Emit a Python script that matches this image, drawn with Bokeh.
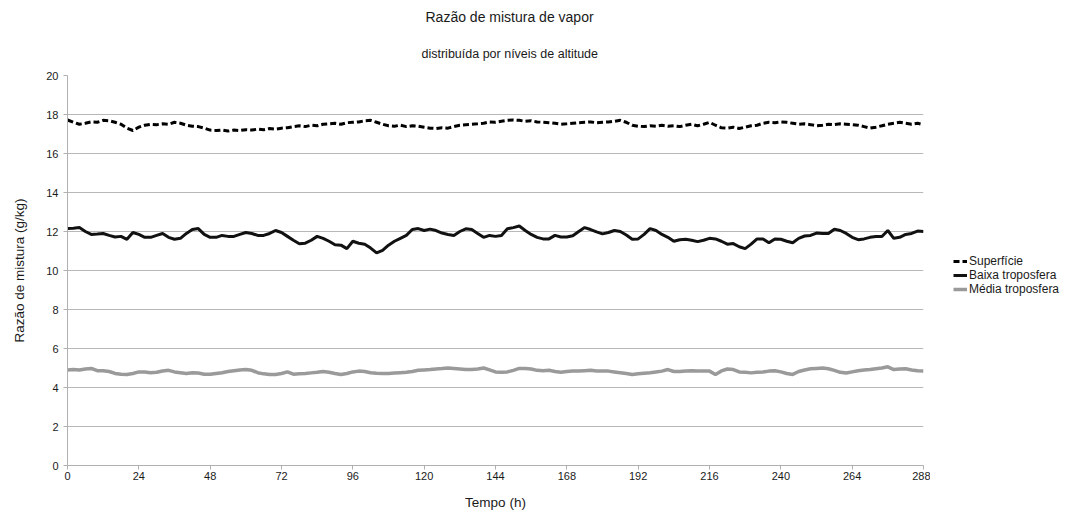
from bokeh.plotting import figure
from bokeh.layouts import row
from bokeh.models import Range1d, FixedTicker, Legend, LegendItem, Title
from bokeh.embed import file_html
from bokeh.resources import INLINE

hours = list(range(0, 289, 2))

superficie = [
    17.72, 17.6, 17.5, 17.55, 17.62, 17.6, 17.7, 17.68, 17.6, 17.5, 17.3, 17.18,
    17.35, 17.45, 17.5, 17.48, 17.52, 17.5, 17.6, 17.55, 17.45, 17.4, 17.38, 17.3,
    17.2, 17.18, 17.2, 17.15, 17.2, 17.18, 17.22, 17.2, 17.25, 17.22, 17.28, 17.25,
    17.3, 17.32, 17.38, 17.42, 17.38, 17.45, 17.42, 17.5, 17.52, 17.55, 17.5, 17.58,
    17.6, 17.62, 17.68, 17.7, 17.6, 17.5, 17.42, 17.4, 17.45, 17.38, 17.42, 17.4,
    17.35, 17.3, 17.28, 17.32, 17.3, 17.38, 17.45, 17.48, 17.5, 17.52, 17.55, 17.62,
    17.6, 17.65, 17.7, 17.72, 17.7, 17.65, 17.68, 17.62, 17.6, 17.58, 17.55, 17.5,
    17.52, 17.55, 17.58, 17.6, 17.62, 17.58, 17.6, 17.62, 17.65, 17.7, 17.6, 17.45,
    17.4, 17.38, 17.42, 17.4, 17.45, 17.4, 17.42, 17.38, 17.45, 17.5, 17.42, 17.5,
    17.6, 17.45, 17.32, 17.3, 17.35, 17.28, 17.35, 17.42, 17.45, 17.55, 17.6, 17.58,
    17.62, 17.6, 17.55, 17.5, 17.52, 17.48, 17.42, 17.45, 17.5, 17.48, 17.52, 17.5,
    17.48, 17.45, 17.38, 17.3, 17.35, 17.42, 17.5, 17.55, 17.6, 17.55, 17.5, 17.55,
    17.48,
]

baixa = [
    12.15, 12.17, 12.2, 12.0, 11.85, 11.87, 11.9, 11.8, 11.72, 11.75, 11.6, 11.95,
    11.85, 11.7, 11.7, 11.8, 11.9, 11.7, 11.6, 11.65, 11.9, 12.1, 12.15, 11.85,
    11.7, 11.7, 11.8, 11.75, 11.75, 11.85, 11.95, 11.9, 11.8, 11.8, 11.9, 12.05,
    11.95, 11.75, 11.55, 11.37, 11.4, 11.55, 11.75, 11.65, 11.5, 11.32, 11.3, 11.12,
    11.5, 11.4, 11.35, 11.15, 10.9, 11.03, 11.3, 11.5, 11.65, 11.8, 12.1, 12.15,
    12.05, 12.12, 12.05, 11.92, 11.85, 11.8, 12.0, 12.14, 12.1, 11.9, 11.7, 11.8,
    11.75, 11.8, 12.14, 12.2, 12.28, 12.05, 11.85, 11.7, 11.62, 11.62, 11.8, 11.72,
    11.72, 11.78, 12.0, 12.2, 12.1, 11.98, 11.88, 11.95, 12.05, 12.0, 11.82, 11.6,
    11.62, 11.85, 12.15, 12.05, 11.85, 11.7, 11.5, 11.58, 11.6, 11.55, 11.48, 11.55,
    11.65, 11.62, 11.5, 11.35, 11.38, 11.22, 11.12, 11.35, 11.62, 11.62, 11.42, 11.62,
    11.6, 11.5, 11.42, 11.65, 11.77, 11.8, 11.92, 11.9, 11.9, 12.12, 12.05, 11.9,
    11.7, 11.58, 11.62, 11.7, 11.74, 11.74, 12.05, 11.65, 11.7, 11.85, 11.9, 12.02,
    12.0,
]

media = [
    4.9, 4.92, 4.9, 4.95, 4.98, 4.86, 4.86, 4.82, 4.72, 4.68, 4.67, 4.72,
    4.8, 4.8, 4.76, 4.78, 4.85, 4.88, 4.8, 4.76, 4.72, 4.76, 4.74, 4.68,
    4.68, 4.72, 4.76, 4.82, 4.86, 4.9, 4.92, 4.88, 4.76, 4.7, 4.67, 4.67,
    4.72, 4.8, 4.68, 4.7, 4.72, 4.75, 4.78, 4.82, 4.78, 4.72, 4.67, 4.72,
    4.8, 4.84, 4.82, 4.76, 4.73, 4.72, 4.72, 4.74, 4.76, 4.78, 4.82, 4.88,
    4.9, 4.92, 4.95, 4.97, 5.0, 4.98, 4.95, 4.92, 4.92, 4.95, 5.0, 4.9,
    4.8, 4.78, 4.8, 4.88, 4.98, 4.98, 4.95, 4.88, 4.86, 4.88, 4.82, 4.78,
    4.82, 4.84, 4.84, 4.86, 4.88, 4.85, 4.84, 4.84, 4.8, 4.76, 4.72, 4.67,
    4.7, 4.73, 4.76, 4.8, 4.84, 4.92, 4.82, 4.82, 4.85, 4.86, 4.85, 4.84,
    4.84, 4.67, 4.85, 4.95, 4.92, 4.8, 4.78, 4.75, 4.78, 4.8, 4.84, 4.86,
    4.8, 4.72, 4.67, 4.82, 4.9, 4.96, 4.98, 5.0, 4.96, 4.88, 4.78, 4.74,
    4.8, 4.86, 4.9, 4.92, 4.96, 5.0, 5.06, 4.92, 4.95, 4.96, 4.9, 4.86,
    4.84,
]

series_names = ["Superfície", "Baixa troposfera", "Média troposfera"]
series_values = [superficie, baixa, media]
x_ticks = list(range(0, 289, 24))
y_ticks = list(range(0, 21, 2))

title_text = "Razão de mistura de vapor"
subtitle_text = "distribuída por níveis de altitude"
x_label = "Tempo (h)"
y_label = "Razão de mistura (g/kg)"

FONT = "Liberation Sans"
TXT = "#1a1a1a"

STYLES = [dict(line_color="black", line_width=3, line_dash="6 3"),
          dict(line_color="#111111", line_width=3),
          dict(line_color="#9a9a9a", line_width=3.5)]

p = figure(width=930, height=512, output_backend="svg", toolbar_location=None,
           title=None,
           x_range=Range1d(0, 288), y_range=Range1d(0, 20),
           min_border_left=67, min_border_right=7, min_border_top=75,
           min_border_bottom=46)
p.outline_line_color = None
p.background_fill_color = "white"
p.border_fill_color = "white"

for vals, st in zip(series_values, STYLES):
    p.line(hours, vals, **st)

p.xgrid.visible = False
p.ygrid.grid_line_color = "#b8b8b8"
p.ygrid.grid_line_width = 1

p.xaxis.ticker = FixedTicker(ticks=x_ticks)
p.yaxis.ticker = FixedTicker(ticks=y_ticks)
for ax in (p.xaxis, p.yaxis):
    ax.axis_line_color = "#b0b0b0"
    ax.major_tick_line_color = "#b0b0b0"
    ax.minor_tick_line_color = None
    ax.major_tick_in = 0
    ax.major_tick_out = 4
    ax.major_label_text_font = FONT
    ax.major_label_text_font_size = "11px"
    ax.major_label_text_color = TXT
    ax.axis_label_text_font = FONT
    ax.axis_label_text_font_size = "13.5px"
    ax.axis_label_text_font_style = "normal"
    ax.axis_label_text_color = TXT
p.xaxis.major_label_standoff = 2
p.xaxis.axis_label = x_label
p.xaxis.axis_label_standoff = 12
p.yaxis.major_label_standoff = 5
p.yaxis.axis_label = y_label
p.yaxis.axis_label_standoff = 16

subtitle = Title(text=subtitle_text, align="left", offset=354, standoff=30,
                 text_font=FONT, text_font_size="12.5px", text_font_style="normal",
                 text_color=TXT)
main_title = Title(text=title_text, align="left", offset=358, standoff=10,
                   text_font=FONT, text_font_size="14px", text_font_style="normal",
                   text_color=TXT)
p.add_layout(subtitle, "above")
p.add_layout(main_title, "above")

# legend panel beside the chart (same series, drawn out of view; only the keys show)
pl = figure(width=130, height=512, output_backend="svg", toolbar_location=None,
            title=None, x_axis_type=None, y_axis_type=None,
            x_range=Range1d(1000, 1001), y_range=Range1d(1000, 1001), min_border=0)
pl.outline_line_color = None
pl.grid.visible = False
pl.border_fill_color = "white"
keys = [pl.line(hours, vals, **st) for vals, st in zip(series_values, STYLES)]

legend = Legend(items=[LegendItem(label=n, renderers=[k]) for n, k in zip(series_names, keys)],
                location=(23, 169), orientation="vertical",
                label_text_font=FONT, label_text_font_size="12px",
                label_text_color=TXT, glyph_width=14, glyph_height=12,
                label_height=12, spacing=0, padding=0, margin=0,
                label_standoff=2, border_line_alpha=0, background_fill_alpha=0)
pl.add_layout(legend)

layout = row(p, pl, spacing=0)
open("out.html", "w").write(file_html(layout, INLINE))
